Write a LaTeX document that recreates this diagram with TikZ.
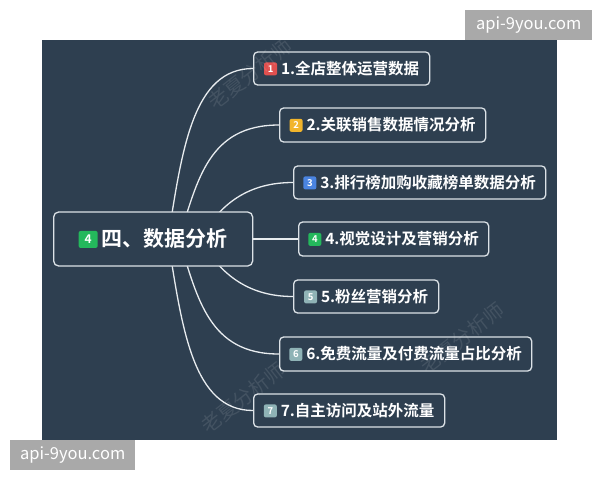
\documentclass[tikz,border=0pt]{standalone}
\usepackage{fontspec}
\setmainfont{Noto Sans CJK SC}[BoldFont={Noto Sans CJK SC Bold}]
\definecolor{bgc}{HTML}{2E3F50}
\definecolor{edgec}{HTML}{DCE2E7}
\definecolor{linec}{HTML}{E8ECEF}
\definecolor{bred}{HTML}{E0504F}
\definecolor{byel}{HTML}{F2B52B}
\definecolor{bblu}{HTML}{4A84E0}
\definecolor{bgrn}{HTML}{24B85C}
\definecolor{bgry}{HTML}{8FB3B6}
\definecolor{wmgray}{HTML}{A9A9A9}
\newcommand\badge[2]{\tikz[baseline={([yshift=-5.5pt]bdg.center)}]\node[fill=#1,draw=none,anchor=center,rounded corners=2pt,text=white,font=\bfseries\fontsize{9.5}{9.5}\selectfont,minimum width=13pt,minimum height=13pt,inner sep=0pt](bdg){#2};}
\newcommand\bigbadge[2]{\tikz[baseline={([yshift=-7.5pt]bdg.center)}]\node[fill=#1,draw=none,anchor=center,rounded corners=2pt,text=white,font=\bfseries\fontsize{12}{12}\selectfont,minimum width=19pt,minimum height=17pt,inner sep=0pt](bdg){#2};}
\tikzset{
  box/.style={draw=edgec, line width=1.3pt, fill=bgc, rounded corners=4pt, anchor=west, inner sep=0pt, text=white, font=\bfseries\fontsize{15.5}{18}\selectfont},
  conn/.style={draw=linec, line width=1.3pt},
  wmbox/.style={fill=wmgray, text=white, inner sep=0pt, anchor=north west, font=\fontsize{16.5}{18}\selectfont},
  wmark/.style={text=white, text opacity=0.10, rotate=38, font=\fontsize{20}{22}\selectfont}
}
\begin{document}
\begin{tikzpicture}[x=1pt,y=-1pt]
\useasboundingbox (0,0) rectangle (600,480);
\fill[bgc] (42,40) rectangle (557,440);

% hidden start points of the connectors
\coordinate (s1) at (168,239);
\coordinate (s2) at (179,239);
\coordinate (s3) at (200,239);
\coordinate (s5) at (200,239);
\coordinate (s6) at (179,239);
\coordinate (s7) at (168,239);

% children
\node[box, minimum width=176, minimum height=33] (c1) at (253,68.5) {\badge{bred}{1}\hspace{4pt}1.全店整体运营数据};
\node[box, minimum width=206, minimum height=34] (c2) at (279,125) {\badge{byel}{2}\hspace{4pt}2.关联销售数据情况分析};
\node[box, minimum width=252, minimum height=33] (c3) at (293,182.5) {\badge{bblu}{3}\hspace{4pt}3.排行榜加购收藏榜单数据分析};
\node[box, minimum width=190, minimum height=34] (c4) at (298,239) {\badge{bgrn}{4}\hspace{4pt}4.视觉设计及营销分析};
\node[box, minimum width=145, minimum height=33] (c5) at (293,296.5) {\badge{bgry}{5}\hspace{4pt}5.粉丝营销分析};
\node[box, minimum width=252, minimum height=34] (c6) at (279,354) {\badge{bgry}{6}\hspace{4pt}6.免费流量及付费流量占比分析};
\node[box, minimum width=191, minimum height=33] (c7) at (253,410.5) {\badge{bgry}{7}\hspace{4pt}7.自主访问及站外流量};

% connectors
\draw[conn] (s1) .. controls (182,149) and (193,68.5) .. (c1.west);
\draw[conn] (s2) .. controls (197.6,179) and (209,125) .. (c2.west);
\draw[conn] (s3) .. controls (221,202) and (250,182.5) .. (c3.west);
\draw[conn] (s5) .. controls (221,276) and (250,296.5) .. (c5.west);
\draw[conn] (s6) .. controls (197.6,299) and (209,354) .. (c6.west);
\draw[conn] (s7) .. controls (182,329) and (193,410.5) .. (c7.west);

% central node (drawn over the connector starts)
\node[box, rounded corners=5pt, minimum width=199, minimum height=54, font=\bfseries\fontsize{21}{24}\selectfont] (root) at (53,239) {\bigbadge{bgrn}{4}\hspace{4pt}四、数据分析};
\draw[conn] (root.east) -- (c4.west);

% faint watermarks
\begin{scope}
\clip (42,40) rectangle (557,440);
\node[wmark] (w1) at (250,74) {老夏分析师};
\node[wmark] (w2) at (462,338) {老夏分析师};
\node[wmark] (w3) at (243,398) {老夏分析师};
\end{scope}

% site watermarks
\node[wmbox, minimum width=127, minimum height=30] (wt) at (465,10) {api-9you.com};
\node[wmbox, minimum width=125, minimum height=30] (wb) at (10,440) {api-9you.com};
\end{tikzpicture}
\end{document}
